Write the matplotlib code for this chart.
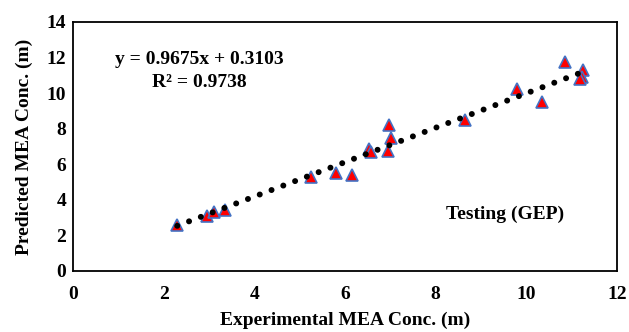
import numpy as np
import matplotlib as mpl
mpl.use('Agg')
from matplotlib import pyplot as plt

# experimental vs predicted (testing set, GEP)
experimental = [2.30, 2.95, 3.10, 3.35, 5.25, 5.80, 6.15, 6.52, 6.58, 6.94, 6.98,
                7.02, 8.65, 9.80, 10.35, 10.86, 11.26, 11.22, 11.18]
predicted = [2.60, 3.10, 3.30, 3.45, 5.30, 5.50, 5.40, 6.85, 6.70, 6.75, 8.20,
             7.45, 8.50, 10.25, 9.50, 11.75, 11.30, 10.90, 10.80]

slope, intercept = 0.9675, 0.3103
r2 = 0.9738

xTicks = [0, 2, 4, 6, 8, 10, 12]
yTicks = [0, 2, 4, 6, 8, 10, 12, 14]

mpl.rc('font', family='Liberation Serif', weight='bold', size=14)

fig = plt.figure(figsize=(6.29, 3.32), dpi=100)
axes = fig.add_axes([0.116, 0.184, 0.865, 0.750])

axes.plot(experimental, predicted, ls='none', marker='^', ms=9,
          mfc='#ff0000', mec='#4472c4', mew=1.2, zorder=2)

xFit = np.array([min(experimental), max(experimental)])
axes.plot(xFit, slope * xFit + intercept, color='black', lw=4.3,
          ls=(0, (0.01, 2.1)), dash_capstyle='round', zorder=3)

axes.set_xlim(0, 12)
axes.set_ylim(0, 14)
axes.set_xticks(xTicks)
axes.set_yticks(yTicks)
axes.tick_params(axis='x', length=0, pad=11, labelsize=14)
axes.tick_params(axis='y', length=0, pad=5, labelsize=14)
for s in axes.spines.values():
    s.set_linewidth(1.3)

axes.set_xlabel('Experimental MEA Conc. (m)', fontsize=14, fontweight='bold', labelpad=6)
axes.set_ylabel('Predicted MEA Conc. (m)', fontsize=14, fontweight='bold', labelpad=10)

axes.text(0.233, 0.803, 'y = {:.4f}x + {:.4f}\nR² = {:.4f}'.format(slope, intercept, r2),
          transform=axes.transAxes, ha='center', va='center', fontsize=14,
          fontweight='bold', linespacing=1.5)
axes.text(0.794, 0.229, 'Testing (GEP)', transform=axes.transAxes, ha='center',
          va='center', fontsize=14, fontweight='bold')

fig.savefig('out.png', dpi=100)
